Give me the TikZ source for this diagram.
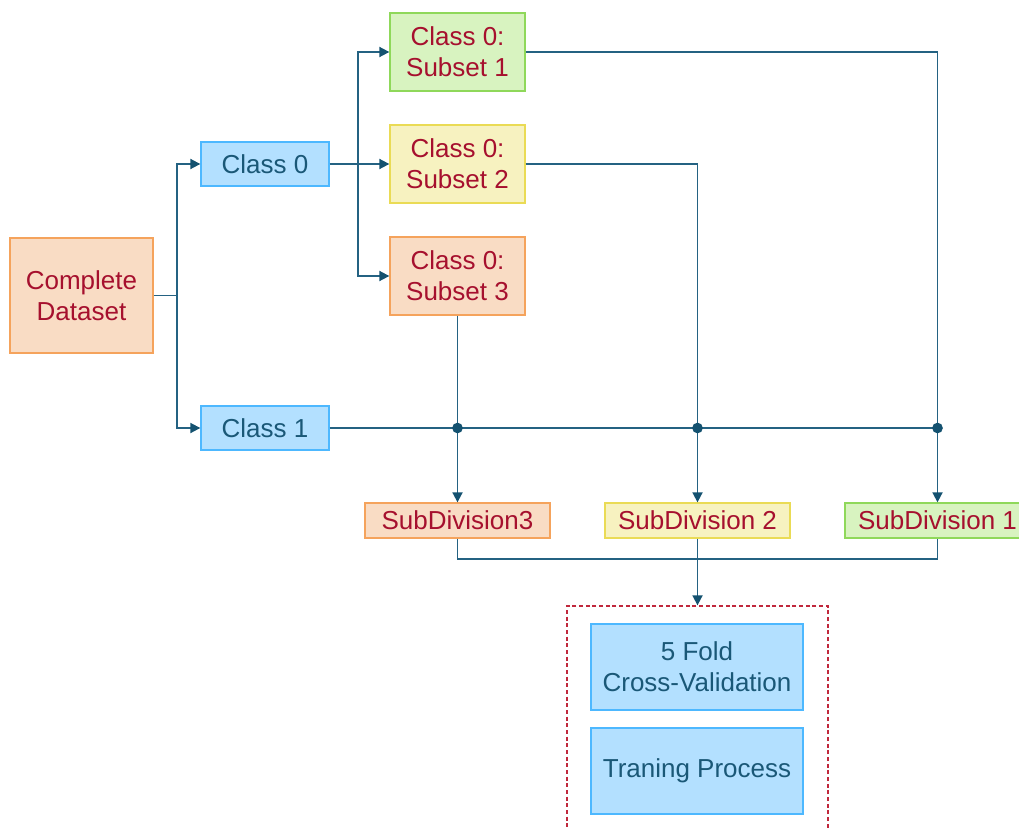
\documentclass[tikz,border=0pt]{standalone}
\usepackage{fontspec}
\setmainfont{Liberation Sans}
\usetikzlibrary{arrows.meta,positioning,calc}

\definecolor{linkcol}{RGB}{36,98,130}
\definecolor{tipcol}{RGB}{20,82,112}
\definecolor{bluefill}{RGB}{179,224,255}
\definecolor{blueline}{RGB}{77,184,255}
\definecolor{bluetext}{RGB}{26,88,119}
\definecolor{redtext}{RGB}{166,16,46}
\definecolor{orangefill}{RGB}{249,220,196}
\definecolor{orangeline}{RGB}{245,163,92}
\definecolor{greenfill}{RGB}{216,243,192}
\definecolor{greenline}{RGB}{143,216,90}
\definecolor{yellowfill}{RGB}{247,242,192}
\definecolor{yellowline}{RGB}{234,219,85}
\definecolor{dashcol}{RGB}{192,40,60}

\tikzset{
  box/.style={draw, line width=1pt, inner sep=0pt, align=center,
    font=\fontsize{19.5}{23.5}\selectfont},
  bluebox/.style={box, fill=bluefill, draw=blueline, text=bluetext},
  orangebox/.style={box, fill=orangefill, draw=orangeline, text=redtext},
  greenbox/.style={box, fill=greenfill, draw=greenline, text=redtext},
  yellowbox/.style={box, fill=yellowfill, draw=yellowline, text=redtext},
  link/.style={draw=linkcol, line width=1.35pt},
  arrow/.style={link, -{Triangle[length=7.5pt,width=7.5pt,color=tipcol]}},
  joint/.style={circle, fill=tipcol, inner sep=0pt, minimum size=8pt},
}

\begin{document}
\begin{tikzpicture}[x=0.75pt,y=0.75pt,yscale=-1,xscale=1]
        \useasboundingbox (0,0) rectangle (1019,828);
        % Text Node
        \node [orangebox, minimum width=107.25pt, minimum height=86.25pt] (data) at (81.5,295.5) {Complete\\Dataset};
        % Text Node
        \node [bluebox, minimum width=96pt, minimum height=33pt] (c0) at (265,164) {Class 0};
        \node [bluebox, minimum width=96pt, minimum height=33pt] (c1) at (265,428) {Class 1};
        % Text Node
        \node [greenbox, minimum width=101.25pt, minimum height=58.5pt] (s1) at (457.5,52) {Class 0:\\Subset 1};
        \node [yellowbox, minimum width=101.25pt, minimum height=58.5pt] (s2) at (457.5,164) {Class 0:\\Subset 2};
        \node [orangebox, minimum width=101.25pt, minimum height=58.5pt] (s3) at (457.5,276) {Class 0:\\Subset 3};
        % Text Node
        \node [orangebox, minimum width=138.75pt, minimum height=26.25pt] (d3) at (457.5,520.5) {SubDivision3};
        \node [yellowbox, minimum width=138.75pt, minimum height=26.25pt] (d2) at (697.5,520.5) {SubDivision 2};
        \node [greenbox, minimum width=138.75pt, minimum height=26.25pt] (d1) at (937.5,520.5) {SubDivision 1};
        % Shape: Rectangle (dashed frame)
        \node [draw=dashcol, line width=1pt, dash pattern=on 3pt off 2pt, minimum width=195.75pt, minimum height=190.5pt, inner sep=0pt] (frame) at (697.5,733) {};
        % Text Node
        \node [bluebox, minimum width=159pt, minimum height=64.5pt] (cv) at (697,667) {5 Fold\\Cross-Validation};
        \node [bluebox, minimum width=159pt, minimum height=64.5pt] (train) at (697,771) {Traning Process};
        %Straight Lines
        \coordinate (fork1) at (177,295.5);
        \coordinate (fork2) at (358,164);
        \draw [link] (data.east) -- (fork1);
        \draw [arrow] (fork1) |- (c0.west);
        \draw [arrow] (fork1) |- (c1.west);
        \draw [arrow] (c0.east) -- (s2.west);
        \draw [arrow] (fork2) |- (s1.west);
        \draw [arrow] (fork2) |- (s3.west);
        \draw [arrow] (s1.east) -| (d1.north);
        \draw [arrow] (s2.east) -| (d2.north);
        \draw [arrow] (s3.south) -- (d3.north);
        \draw [link] (c1.east) -- (c1.east -| d1.north);
        \node [joint] (j3) at (c1.east -| d3.north) {};
        \node [joint] (j2) at (c1.east -| d2.north) {};
        \node [joint] (j1) at (c1.east -| d1.north) {};
        \draw [link] (d3.south) -- ++(0,20) -| (d1.south);
        \draw [arrow] (d2.south) -- (frame.north);
        \end{tikzpicture}
\end{document}
